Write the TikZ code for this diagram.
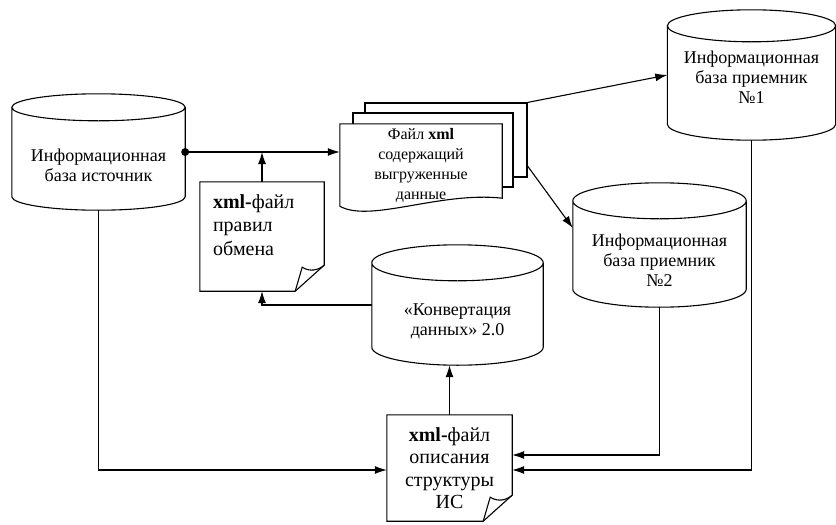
\documentclass[tikz,border=0pt]{standalone}
\usepackage{fontspec}
\setmainfont{Liberation Serif}
\usetikzlibrary{arrows.meta,positioning,calc,backgrounds}
\tikzset{
  line-style/.style = {
    draw=black, line width=1.1pt
  },
  cyl-style/.style = {
    rectangle, inner sep=0pt,
    font=\fontsize{18}{20}\selectfont
  },
  doc-style/.style = {
    rectangle, inner sep=0pt,
    font=\fontsize{20}{23.5}\selectfont
  },
  page-style/.style = {
    rectangle, line-style, fill=white, inner sep=0pt
  },
  conn-style/.style = {
    line-style, -{Latex[length=12pt,width=8pt]}
  }
}
% text of a data base, lowered by #1
\newcommand\cyltext[2]{\raisebox{-#1}[0pt][0pt]{\makebox[0pt]{\begin{tabular}{@{}c@{}}#2\end{tabular}}}}
% outline of a data base round node #1, ends with y radius #2
\newcommand\drawcyl[2]{%
  \draw[line-style] let \p1=(#1.north west), \p2=(#1.north east), \n1={(\x2-\x1)/2} in
    ([yshift=-#2]#1.north west) -- ([yshift=#2]#1.south west)
    arc[start angle=180, end angle=360, x radius=\n1, y radius=#2]
    -- ([yshift=-#2]#1.north east)
    arc[start angle=0, end angle=360, x radius=\n1, y radius=#2];
}
% outline of a sheet with a folded corner
\newcommand\notedoc[1]{%
  \draw[line-style] (#1.north west) -- (#1.north east) -- ([shift={(0,-26)}]#1.south east)
    -- ([shift={(-29,0)}]#1.south east) -- (#1.south west) -- cycle;
  \draw[line-style] ([shift={(-29,0)}]#1.south east) -- ([shift={(-22,-24)}]#1.south east)
    .. controls ([shift={(-14,-19)}]#1.south east) and ([shift={(-6,-21)}]#1.south east)
    .. ([shift={(0,-26)}]#1.south east);
}
\begin{document}
\begin{tikzpicture}[x=1pt,y=-1pt]
    \useasboundingbox (0,0) rectangle (836,525);

    %%% data bases
    \node[cyl-style, minimum width=173pt, minimum height=116pt] (src) at (98.5,152)
      {\cyltext{19.5pt}{Информационная\\база источник}};
    \drawcyl{src}{13.5pt}
    \node[cyl-style, minimum width=168pt, minimum height=130pt] (ib1) at (751.5,75)
      {\cyltext{9pt}{Информационная\\база приемник\\№1}};
    \drawcyl{ib1}{16pt}
    \node[cyl-style, minimum width=173pt, minimum height=124pt] (ib2) at (659.5,245)
      {\cyltext{22pt}{Информационная\\база приемник\\№2}};
    \drawcyl{ib2}{18pt}
    \node[cyl-style, minimum width=171pt, minimum height=120pt] (conv) at (457.5,305)
      {\cyltext{21pt}{«Конвертация\\данных» 2.0}};
    \drawcyl{conv}{18pt}

    %%% xml files
    \node[doc-style, minimum width=124pt, minimum height=109pt, text width=98pt, align=left,
      execute at end node={\rule[-23pt]{0pt}{0pt}}] (rules) at (262,236.5)
      {\textbf{xml-}файл\\правил\\обмена};
    \notedoc{rules}
    \node[doc-style, minimum width=125pt, minimum height=106pt, align=center,
      font=\fontsize{20}{22.5}\selectfont] (struct) at (449.5,468)
      {\textbf{xml-}файл\\описания\\структуры\\ИС};
    \notedoc{struct}

    %%% stack of unloaded files
    \node[doc-style, minimum width=162pt, minimum height=82pt, align=center,
      font=\fontsize{16}{20}\selectfont] (stack) at (421,165)
      {Файл \textbf{xml}\\содержащий\\выгруженные\\данные};
    \begin{pgfonlayer}{background}
      \node[page-style, minimum width=162pt, minimum height=74pt] (stackback) at (446,140) {};
      \node[page-style, minimum width=160pt, minimum height=74pt] (stackmid) at (433,150) {};
      \path[line-style, fill=white] (stack.north west) -- (stack.north east)
        -- ([shift={(0,-8)}]stack.south east)
        .. controls ([shift={(-62,-15)}]stack.south east) and ([shift={(30,17)}]stack.south west)
        .. (stack.south west) -- cycle;
    \end{pgfonlayer}

    %%% arrows
    \fill (src.east) circle (4pt);
    \draw[conn-style] (src.east) -- (src.east -| stack.west);
    \draw[conn-style] (rules.north) -- (rules.north |- src.east);
    \draw[conn-style] (stackback.north east) -- (ib1.west);
    \draw[conn-style] ([shift={(0,26)}]stackback.east) -- ([shift={(0,-17)}]ib2.west);
    \draw[conn-style] (conv.west) -| (rules.south);
    \draw[conn-style] (struct.north) -- (struct.north |- conv.south);
    \draw[conn-style] (src.south) |- ([shift={(0,2)}]struct.west);
    \draw[conn-style] (ib2.south) |- ([shift={(0,-13)}]struct.east);
    \draw[conn-style] (ib1.south) |- ([shift={(0,2)}]struct.east);
\end{tikzpicture}
\end{document}
